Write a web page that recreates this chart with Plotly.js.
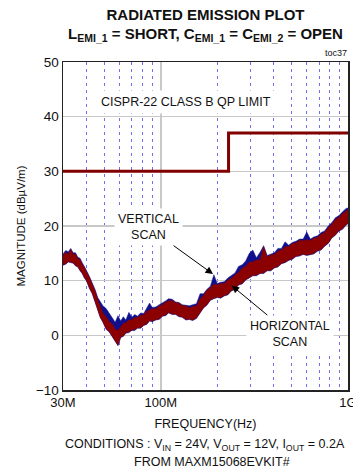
<!DOCTYPE html>
<html>
<head>
<meta charset="utf-8">
<script src="https://cdn.plot.ly/plotly-3.0.1.min.js"></script>
<style>html,body{margin:0;padding:0;background:#fff;}#chart{width:353px;height:469px;}</style>
</head>
<body>
<div id="chart"></div>
<script>
// Frequency sample points (MHz)
const freqMHz = [30,31,32,33,34,35,36,37,38,39,40,41.5,43,44.5,46,47.5,49,51,53,55,57,59,61,63,65,67.5,70,72.5,75,78,81,84,87,90,94,98,102,106,110,115,120,125,130,136,142,148,155,162,169,176,184,192,200,209,218,228,238,249,260,272,284,297,310,324,339,354,370,387,404,422,441,461,482,504,527,551,576,602,629,657,687,718,750,784,819,856,895,935,977,1000];

// Horizontal scan (dark red) – upper / lower envelope of the noisy trace (dBµV/m)
const horizUpper = [14.6,15.2,14.8,15.7,14.8,14.9,14.0,13.9,12.9,12.5,11.6,10.6,9.3,8.1,6.5,5.3,4.1,3.4,2.5,2.1,1.1,0.9,1.5,2.2,2.3,2.8,2.8,3.3,3.2,3.7,3.7,4.4,4.6,4.9,4.8,5.4,5.6,6.1,6.3,6.4,5.9,5.9,5.4,5.4,5.0,5.3,5.3,6.7,7.3,8.2,8.7,9.4,9.2,9.5,9.5,10.1,10.4,11.1,11.5,12.3,12.6,13.4,13.4,13.8,13.8,16.2,14.3,14.7,14.8,15.4,15.6,16.2,16.2,16.8,16.9,17.4,17.3,17.5,17.3,17.8,17.9,18.5,18.8,19.7,20.3,21.2,21.6,22.3,22.7,23.0];
const horizLower = [12.9,13.1,13.5,13.4,13.3,12.8,12.6,11.9,11.4,10.6,10.1,8.7,7.7,6.2,4.9,3.3,2.5,1.2,0.7,-0.2,-1.1,-1.8,-0.3,-0.1,0.5,0.6,1.0,1.0,1.4,1.4,1.9,2.1,2.7,2.6,2.9,3.0,3.6,3.7,4.2,3.9,3.9,3.5,3.4,2.9,3.0,2.8,3.2,4.1,5.1,5.6,6.5,6.8,7.0,6.9,7.3,7.5,8.2,8.5,9.3,9.5,10.2,10.6,11.0,11.0,11.4,11.4,11.9,11.9,12.4,12.6,13.2,13.4,13.8,14.0,14.5,14.6,14.9,14.7,14.9,15.0,15.5,15.7,16.4,16.9,17.9,18.4,19.2,19.5,20.3,20.5];

// Vertical scan (navy) – upper / lower envelope
const vertUpper = [14.9,15.5,15.3,15.9,15.1,15.1,14.3,14.1,13.3,12.7,11.9,10.8,9.6,8.4,6.9,6.2,5.4,4.9,3.9,3.2,2.4,3.6,2.6,3.4,2.8,4.2,3.3,3.8,3.5,4.1,4.0,4.9,5.9,5.1,5.2,5.6,5.9,6.3,6.7,6.6,6.1,6.0,5.6,5.5,5.4,5.6,5.8,7.6,7.6,8.4,9.0,11.1,9.5,9.7,9.8,10.5,11.0,11.4,12.6,12.9,13.6,15.0,15.6,14.2,15.2,16.4,14.6,14.9,15.1,15.9,15.9,17.1,16.5,17.0,17.2,17.6,17.6,18.9,17.6,18.0,18.2,18.8,19.1,20.0,20.6,21.5,21.9,22.6,23.2,23.3];
const vertLower = [12.8,13.0,13.4,13.3,13.2,12.7,12.5,11.8,11.3,10.5,10.0,8.6,7.6,6.1,4.8,3.2,2.4,1.1,0.6,-0.3,-1.2,-1.9,-0.4,-0.2,0.4,0.5,0.9,0.9,1.3,1.3,1.8,2.0,2.6,2.5,2.8,2.9,3.5,3.6,4.1,3.8,3.8,3.4,3.3,2.8,2.9,2.7,3.1,4.0,5.0,5.5,6.4,6.7,6.9,6.8,7.2,7.4,8.1,8.4,9.2,9.4,10.1,10.5,10.9,10.9,11.3,11.3,11.8,11.8,12.3,12.5,13.1,13.3,13.7,13.9,14.4,14.5,14.8,14.6,14.8,14.9,15.4,15.6,16.3,16.8,17.8,18.3,19.1,19.4,20.2,20.4];

// CISPR-22 Class B QP limit (step)
const limitFreqMHz = [30, 230, 1000];
const limitLevel = [30, 37, 37];

// Axis ticks
const xTickVals = [30, 100, 1000];
const xTickText = ['30M', '100M', '1G'];
const xMinorVals = [40,50,60,70,80,90,200,300,400,500,600,700,800,900];

const FONT = "'Liberation Sans', Arial, sans-serif";
const RED = '#8b0000';
const BLUE = '#10108c';

const traces = [
  {x: freqMHz, y: vertLower, mode: 'lines', line: {color: BLUE, width: 0.5}, hoverinfo: 'skip'},
  {x: freqMHz, y: vertUpper, mode: 'lines', fill: 'tonexty', fillcolor: BLUE, line: {color: BLUE, width: 0.5}, name: 'VERTICAL SCAN'},
  {x: freqMHz, y: horizLower, mode: 'lines', line: {color: RED, width: 0.5}, hoverinfo: 'skip'},
  {x: freqMHz, y: horizUpper, mode: 'lines', fill: 'tonexty', fillcolor: RED, line: {color: RED, width: 0.5}, name: 'HORIZONTAL SCAN'},
  {x: limitFreqMHz, y: limitLevel, mode: 'lines', line: {color: '#800000', width: 3, shape: 'hv'}, name: 'CISPR-22 CLASS B QP LIMIT'}
];

const layout = {
  width: 353, height: 469,
  margin: {l: 63, r: 5, t: 62, b: 79},
  paper_bgcolor: '#fff', plot_bgcolor: '#fff',
  showlegend: false,
  font: {family: FONT, color: '#111', size: 12.5},
  title: {
    text: '<b>RADIATED EMISSION PLOT<br>L<sub>EMI_1</sub> = SHORT, C<sub>EMI_1</sub> = C<sub>EMI_2</sub> = OPEN</b>',
    font: {family: FONT, size: 15, color: '#111'},
    x: 0.5, xref: 'paper', xanchor: 'center',
    y: 0.958, yref: 'container', yanchor: 'top'
  },
  xaxis: {
    type: 'log', range: [Math.log10(30), Math.log10(1000)],
    tickmode: 'array', tickvals: xTickVals, ticktext: xTickText,
    ticks: '', ticklabeloverflow: 'allow',
    tickfont: {size: 13},
    showgrid: true, gridcolor: '#c8c8c8', gridwidth: 1.5,
    minor: {tickmode: 'array', tickvals: xMinorVals, showgrid: true, gridcolor: '#6f6ff5', gridwidth: 1, griddash: '3px,4px', ticks: ''},
    showline: true, mirror: true, linecolor: '#222', linewidth: 1.5,
    zeroline: false,
    title: {text: 'FREQUENCY(Hz)', font: {size: 12.5}, standoff: 10}
  },
  yaxis: {
    range: [-10, 50], tickmode: 'linear', tick0: 0, dtick: 10,
    ticks: '', tickfont: {size: 13.5},
    showgrid: true, gridcolor: '#c8c8c8', gridwidth: 1.5,
    showline: true, mirror: true, linecolor: '#222', linewidth: 1.5,
    zeroline: false,
    title: {text: 'MAGNITUDE (dBµV/m)', font: {size: 11.5}, standoff: 8}
  },
  annotations: [
    {text: 'toc37', xref: 'paper', yref: 'paper', x: 1.005, y: 1.027, xanchor: 'right', yanchor: 'middle', showarrow: false, font: {size: 9}},
    {text: 'CISPR-22 CLASS B QP LIMIT', xref: 'paper', yref: 'y', x: 0.432, y: 42.7, showarrow: false, bgcolor: '#fff', borderpad: 4, font: {size: 12.5}},
    {text: 'VERTICAL<br>SCAN', xref: 'x', yref: 'y', x: Math.log10(190), y: 11.2, ax: -65, ay: -47,
     showarrow: true, arrowhead: 2, arrowsize: 1.5, arrowwidth: 1, arrowcolor: '#000', bgcolor: '#fff', borderpad: 3, font: {size: 12.5}},
    {text: 'HORIZONTAL<br>SCAN', xref: 'x', yref: 'y', x: Math.log10(239), y: 9.1, ax: 58, ay: 48,
     showarrow: true, arrowhead: 2, arrowsize: 1.5, arrowwidth: 1, arrowcolor: '#000', bgcolor: '#fff', borderpad: 3, font: {size: 12.5}},
    {text: 'CONDITIONS : V<sub>IN</sub> = 24V, V<sub>OUT</sub> = 12V, I<sub>OUT</sub> = 0.2A', xref: 'paper', yref: 'paper', x: 0.498, y: -0.168, yanchor: 'middle', showarrow: false, font: {size: 12.5}},
    {text: 'FROM MAXM15068EVKIT#', xref: 'paper', yref: 'paper', x: 0.523, y: -0.218, yanchor: 'middle', showarrow: false, font: {size: 12.5}}
  ]
};

Plotly.newPlot('chart', traces, layout, {displayModeBar: false, staticPlot: true});
</script>
</body>
</html>
